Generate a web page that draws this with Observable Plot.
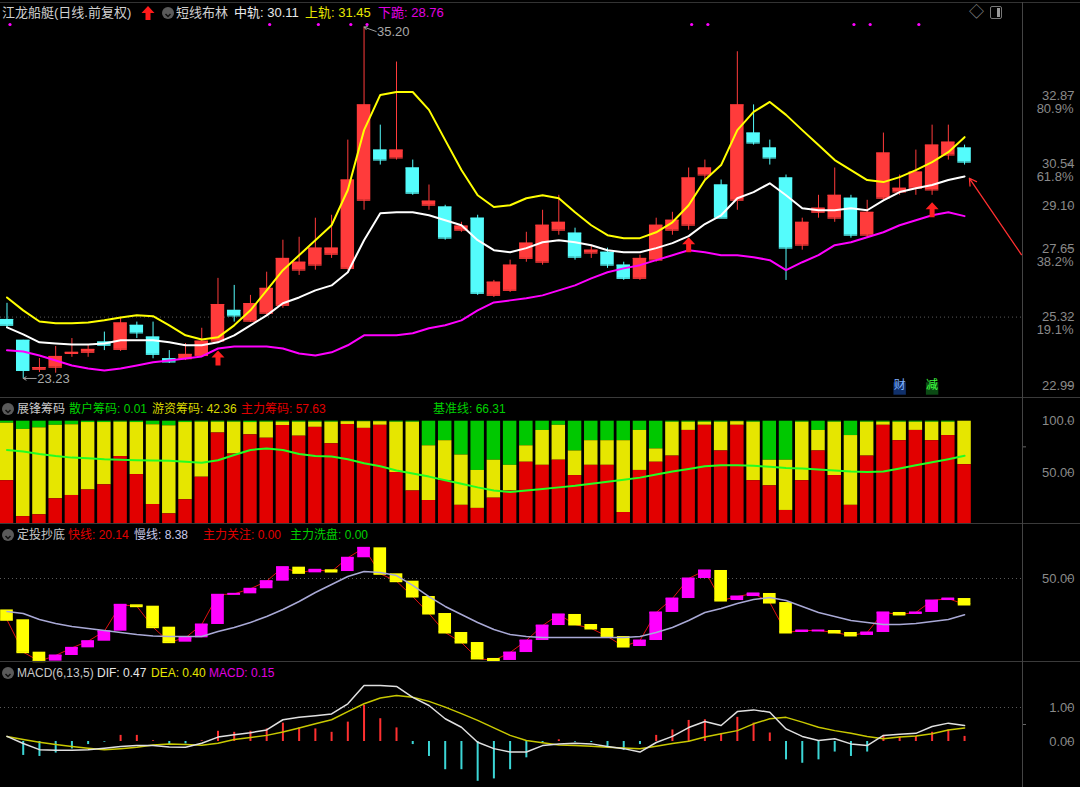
<!DOCTYPE html>
<html><head><meta charset="utf-8">
<script src="https://cdn.jsdelivr.net/npm/d3@7"></script>
<script src="https://cdn.jsdelivr.net/npm/@observablehq/plot@0.6"></script>
<style>
html,body{margin:0;padding:0;background:#000;}
body{width:1080px;height:787px;overflow:hidden;position:relative;font-family:"Liberation Sans","Noto Sans CJK SC",sans-serif;}
.panel{position:absolute;left:0;width:1080px;}
.h{position:absolute;font-size:12px;white-space:nowrap;line-height:16px;}
.h1{font-size:13px;}
.sep{position:absolute;background:#3a3a3a;}
.ico{position:absolute;width:12px;height:12px;border-radius:50%;background:#5a5a5a;}
</style></head><body>
<div id="p1" class="panel" style="top:0"></div>
<div id="p2" class="panel" style="top:398px"></div>
<div id="p3" class="panel" style="top:524px"></div>
<div id="p4" class="panel" style="top:662px"></div>
<script>
// ---------------- data ----------------
const openP  = [25.24,24.53,23.54,23.61,24.08,24.12,24.47,24.22,25.04,24.64,23.90,23.90,24.01,24.50,25.55,25.18,25.45,25.72,26.92,27.09,27.46,26.98,29.30,31.01,30.74,30.40,29.13,29.07,28.28,28.69,26.06,26.23,27.32,27.19,28.28,28.18,27.50,27.53,27.09,26.64,27.26,28.28,28.45,30.16,29.82,29.30,31.59,31.08,30.06,27.77,28.89,28.69,29.37,28.11,29.37,29.58,29.71,29.65,30.84,31.08];
const highP  = [25.79,24.53,23.91,24.32,24.59,24.36,24.81,25.31,25.15,25.15,24.18,24.42,24.94,26.64,26.40,26.06,26.85,27.94,28.04,28.69,28.79,31.35,35.20,31.86,34.01,30.67,29.82,29.13,28.55,28.79,26.57,27.26,28.21,28.96,29.47,28.35,27.77,27.67,27.19,27.43,28.69,28.89,30.40,30.67,29.99,34.36,32.55,31.35,30.16,28.69,29.47,30.40,29.47,29.30,31.59,30.16,31.01,31.86,31.86,31.18];
const lowP   = [24.94,23.23,23.43,23.41,23.95,23.95,24.18,24.15,24.59,23.90,23.74,23.84,23.96,24.42,25.15,25.14,25.38,25.62,26.74,26.92,27.32,26.92,28.96,30.50,30.67,29.47,28.96,27.94,28.21,26.06,25.99,26.16,27.19,27.09,28.11,27.26,27.32,26.98,26.57,26.57,27.19,28.11,28.28,29.99,28.69,28.96,31.18,30.50,26.57,27.60,28.69,28.55,28.01,28.01,29.30,29.47,29.47,29.47,30.67,30.50];
const closeP = [25.04,23.50,23.60,23.98,24.12,24.22,24.36,25.12,24.78,24.05,23.79,24.05,24.50,25.75,25.36,25.78,26.30,27.32,27.19,27.67,27.67,29.99,32.55,30.67,31.01,29.54,29.27,28.01,28.42,26.13,26.51,27.09,27.84,28.45,28.55,27.36,27.60,27.09,26.64,27.32,28.45,28.62,30.06,30.40,28.69,32.55,31.25,30.74,27.67,28.55,29.03,29.47,28.11,28.89,30.91,29.71,30.26,31.18,31.28,30.60];
const bollUp  = [25.99,25.55,25.17,25.11,25.11,25.14,25.21,25.31,25.38,25.35,25.04,24.70,24.56,24.63,25.04,25.55,26.23,26.92,27.43,27.94,28.45,29.65,31.69,32.89,32.99,32.99,32.38,31.35,30.33,29.47,29.07,29.13,29.37,29.47,29.37,28.89,28.45,28.11,28.01,28.01,28.21,28.55,29.13,29.99,30.50,31.69,32.31,32.65,32.21,31.69,31.18,30.67,30.33,29.99,29.92,30.09,30.33,30.60,30.94,31.45];
const bollMid = [24.97,24.73,24.46,24.42,24.39,24.39,24.42,24.53,24.53,24.53,24.46,24.36,24.36,24.46,24.70,25.04,25.38,25.79,25.99,26.23,26.40,26.85,27.94,28.86,28.89,28.89,28.79,28.62,28.45,27.94,27.60,27.53,27.67,27.87,27.94,27.87,27.77,27.60,27.53,27.53,27.67,27.84,28.08,28.49,28.79,29.37,29.58,29.88,29.47,29.03,28.96,28.96,29.03,28.96,29.30,29.58,29.71,29.82,29.99,30.11];
const bollLow = [24.19,24.15,24.01,23.84,23.67,23.57,23.50,23.57,23.67,23.78,23.84,23.91,23.98,24.25,24.32,24.32,24.32,24.25,24.08,24.01,24.12,24.36,24.70,24.70,24.70,24.77,24.94,25.04,25.21,25.55,25.82,25.89,25.96,26.06,26.23,26.40,26.64,26.85,26.98,27.09,27.26,27.43,27.60,27.53,27.43,27.43,27.36,27.26,26.92,27.19,27.43,27.77,27.87,28.04,28.21,28.45,28.62,28.79,28.89,28.76];
const buySignal = [13, 42, 57];
const topDots = [0, 16, 19, 21, 22, 42, 43, 52, 53, 56];
const priceTicks = [22.99, 25.32, 27.65, 29.10, 30.54, 32.87];
const pctTicks = [{v:32.87, t:"80.9%"},{v:30.54, t:"61.8%"},{v:27.65, t:"38.2%"},{v:25.32, t:"19.1%"}];
const priceGrid = [25.32];
const extremes = [{i:22, v:35.20, side:"high"},{i:1, v:23.23, side:"low"}];
const badges = [{i:55, t:"财", fg:"#7fb0ff", bg:"#10306a"},{i:57, t:"减", fg:"#40ff40", bg:"#0b4a14"}];
const pointer = {i1:62.5, v1:27.45, i2:59.3, v2:30.05};

// 展锋筹码: 主力 (red), 游资 (yellow), 散户 = remainder (green)
const chipMain = [42,7,8.8,24.4,27.6,33,38,65.6,48,18.8,9.7,23.4,45.4,88.5,68,86.7,83.4,95.8,85.4,94,78,96.8,93,96,50,32,22.7,42,18,15,25,32,60,57,62,47,57,57,11,52,60,66,91,96,71,96,42,37,13,42,71,47,18,66,96,81,91,81,86,57.63];
const chipHot  = [56,85,84.7,71.6,68.9,65.7,60.7,33.4,50.7,77.7,85.8,75.3,53.6,10.5,31,12,15.6,3.2,13.6,5,21,2.7,6.5,3.5,49,67,53.3,39,49,37,37,25,16,34,34,24,24,24,70,39,13,33,8,3,28,3.5,57,25,49,57,20,52,68,33,3,18,8,18,13,42.36];
const chipBase = [72,70.5,68,66,64.5,64,63,62.5,62,61.7,61.5,60.5,59.5,62,67,72,73.5,72,68,66,65.5,63,59,56,52,49,46,42.5,39,35.5,32.5,31,32.5,34,35.5,37,39,41,43,45,48,51,53.5,56,57,57,56.5,55.5,54.5,54,53,52,51,50.5,51,54,57,60,63,66.31];
const chipTicks = [100, 50];

// 定投抄底
const fastStart = 13.9;
const fastLine = [2.6,-34.6,-44.9,-38.4,-29.6,-22.0,-10.5,19.8,18.2,-5.9,-23.1,-18.1,-2.8,31.3,32.4,38.2,46.9,63.0,56.5,60.0,58.0,73.8,85.2,55.4,46.9,29.3,9.8,-12.0,-23.5,-41.8,-44.1,-35.0,-21.2,-4.0,8.7,-2.8,-7.4,-16.6,-28.1,-21.2,11.0,27.0,50.0,59.2,24.7,29.3,32.8,22.4,-12.0,-9.7,-9.7,-12.0,-15.4,-12.0,11.0,8.7,11.0,24.7,27.0,20.14];
const slowLine = [12.1,9.8,2.9,-1.7,-5.1,-7.4,-9.7,-12.0,-14.3,-16.0,-16.6,-16.6,-16.6,-10.8,-6.3,-0.5,6.4,14.4,23.6,33.9,43.1,52.3,58.0,56.9,53.4,42.0,29.3,17.9,8.7,-0.5,-8.5,-14.3,-16.6,-17.7,-17.7,-17.7,-17.7,-17.7,-17.7,-16.6,-12.0,-6.3,1.8,11.0,15.6,21.3,25.9,28.2,24.7,17.9,11.0,6.4,1.8,-0.5,-2.8,-2.8,-1.7,0.6,2.9,8.38];
const dtTicks = [50];

// MACD(6,13,5)
const difLine = [0.15,-0.06,-0.24,-0.26,-0.26,-0.24,-0.20,-0.15,-0.12,-0.12,-0.16,-0.17,-0.05,0.13,0.20,0.26,0.34,0.64,0.71,0.76,0.81,1.11,1.65,1.65,1.62,1.30,1.06,0.67,0.42,-0.02,-0.21,-0.31,-0.31,-0.12,-0.07,-0.05,-0.07,-0.15,-0.21,-0.31,-0.03,0.15,0.41,0.59,0.47,0.88,0.93,0.86,0.37,0.15,0.03,0.08,-0.07,-0.12,0.18,0.21,0.24,0.44,0.54,0.47];
const deaLine = [0.15,0.06,-0.02,-0.09,-0.15,-0.20,-0.24,-0.21,-0.17,-0.10,-0.07,-0.09,-0.11,-0.05,0.06,0.12,0.18,0.28,0.40,0.52,0.64,0.88,1.11,1.28,1.35,1.30,1.18,1.01,0.82,0.62,0.40,0.18,0.03,-0.04,-0.10,-0.12,-0.14,-0.17,-0.19,-0.21,-0.14,-0.06,0.01,0.13,0.23,0.32,0.52,0.67,0.71,0.57,0.42,0.32,0.24,0.15,0.08,0.13,0.16,0.23,0.34,0.40];
const macdBar = [0.0,-0.41,-0.44,-0.34,-0.22,-0.09,-0.02,0.18,0.18,0.02,-0.09,-0.07,0.02,0.30,0.27,0.30,0.37,0.54,0.40,0.37,0.27,0.57,1.06,0.67,0.40,-0.09,-0.44,-0.83,-0.83,-1.17,-1.10,-0.83,-0.48,-0.03,0.05,-0.02,-0.03,-0.15,-0.26,-0.09,0.18,0.34,0.62,0.64,0.23,0.71,0.54,0.25,-0.54,-0.64,-0.54,-0.31,-0.44,-0.31,0.18,0.13,0.15,0.27,0.34,0.15];
const macdTicks = [1, 0];
const macdMinor = [0.5];

// ---------------- helpers ----------------
const N = closeP.length;
const X = {domain:[-0.4, 62.57], axis:null};
const W = 1080, MR = 58;
const HALF = 0.415;
const RED = "#ff3b3b", CYAN = "#54fcfc";
const axisColor = "#8a8a8a";
const baseStyle = "background:transparent;overflow:visible;font-family:'Liberation Sans','Noto Sans CJK SC',sans-serif;";

const upArrow = {draw(ctx){ ctx.moveTo(0,-8); ctx.lineTo(6.5,-1); ctx.lineTo(2.5,-1); ctx.lineTo(2.5,7); ctx.lineTo(-2.5,7); ctx.lineTo(-2.5,-1); ctx.lineTo(-6.5,-1); ctx.closePath(); }};

function rightAxis(ticks, fmt, minor){
  return [
    Plot.axisY(ticks, {anchor:"right", tickSize:5, stroke:"#666", fill:axisColor, fontSize:13, tickFormat:fmt, textAnchor:"end", dx:44, tickPadding:3}),
    ...(minor ? [Plot.axisY(minor, {anchor:"right", tickSize:3, stroke:"#666", text:null})] : [])
  ];
}

// ---------------- panel 1 ----------------
const candles = d3.range(N).map(i => ({i, o:openP[i], h:highP[i], l:lowP[i], c:closeP[i], up:bollUp[i], mid:bollMid[i], low:bollLow[i]}));
const colOf = d => d.c >= d.o ? RED : CYAN;

const p1 = Plot.plot({
  width:W, height:398, marginLeft:0, marginRight:MR, marginTop:0, marginBottom:0,
  style:baseStyle,
  x:X,
  y:{domain:[22.99, 32.87], range:[385, 95], axis:null},
  marks:[
    Plot.ruleY(priceGrid, {stroke:"#5a5a5a", strokeDasharray:"1,3"}),
    Plot.ruleX(candles, {x:"i", y1:"l", y2:"h", stroke:colOf, strokeWidth:1}),
    Plot.rect(candles, {x1:d=>d.i-HALF, x2:d=>d.i+HALF, y1:"o", y2:"c", fill:colOf}),
    Plot.ruleY(candles, {y:"o", x1:d=>d.i-HALF, x2:d=>d.i+HALF, stroke:colOf}),
    Plot.ruleY(candles, {y:"c", x1:d=>d.i-HALF, x2:d=>d.i+HALF, stroke:colOf}),
    Plot.line(candles, {x:"i", y:"low", stroke:"#ff00ff", strokeWidth:2}),
    Plot.line(candles, {x:"i", y:"up", stroke:"#ffff00", strokeWidth:2}),
    Plot.line(candles, {x:"i", y:"mid", stroke:"#ffffff", strokeWidth:2}),
    Plot.dot(buySignal, {x:d=>d, y:d=>lowP[d], symbol:upArrow, fill:"#ff2020", stroke:null, dy:15}),
    Plot.dot(topDots, {x:d=>d, frameAnchor:"top", dy:24, dx:3, r:1.6, fill:"#ff00ff"}),
    Plot.arrow(extremes.filter(d=>d.side==="high"), {x1:d=>d.i+0.75, y1:d=>d.v-0.15, x2:"i", y2:"v", stroke:"#a0a0a0", strokeWidth:1, headLength:5}),
    Plot.text(extremes.filter(d=>d.side==="high"), {x:"i", y:"v", text:d=>d.v.toFixed(2), dx:13, dy:5, textAnchor:"start", fill:"#a8a8a8", fontSize:13}),
    Plot.arrow(extremes.filter(d=>d.side==="low"), {x1:d=>d.i+0.8, y1:"v", x2:"i", y2:"v", stroke:"#a0a0a0", strokeWidth:1, headLength:5}),
    Plot.text(extremes.filter(d=>d.side==="low"), {x:"i", y:"v", text:d=>d.v.toFixed(2), dx:14, textAnchor:"start", fill:"#a8a8a8", fontSize:13}),
    Plot.dot(badges, {x:"i", frameAnchor:"bottom", dy:-10, symbol:"square", r:7, fill:"bg"}),
    Plot.text(badges, {x:"i", frameAnchor:"bottom", dy:-10, text:"t", fill:"fg", fontSize:12}),
    Plot.arrow([pointer], {x1:"i1", y1:"v1", x2:"i2", y2:"v2", stroke:"#ff3030", strokeWidth:1.3, headLength:9}),
    ...rightAxis(priceTicks, d=>d.toFixed(2)),
    Plot.text(pctTicks, {y:"v", text:"t", frameAnchor:"right", dx:51, dy:13, textAnchor:"end", fill:axisColor, fontSize:13}),
  ]
});
document.getElementById("p1").appendChild(p1);

// ---------------- panel 2 ----------------
const chips = d3.range(N).map(i => ({i, main:chipMain[i], hot:chipHot[i], top:chipMain[i]+chipHot[i], base:chipBase[i]}));
const p2 = Plot.plot({
  width:W, height:126, marginLeft:0, marginRight:MR, marginTop:0, marginBottom:0,
  style:baseStyle, x:X,
  y:{domain:[0,100], range:[125.3, 22.7], axis:null},
  marks:[
    Plot.rect(chips, {x1:d=>d.i-HALF, x2:d=>d.i+HALF, y1:"top", y2:100, fill:"#00c800"}),
    Plot.rect(chips, {x1:d=>d.i-HALF, x2:d=>d.i+HALF, y1:"main", y2:"top", fill:"#e6e600"}),
    Plot.rect(chips, {x1:d=>d.i-HALF, x2:d=>d.i+HALF, y1:0, y2:"main", fill:"#e20000"}),
    Plot.line(chips, {x:"i", y:"base", stroke:"#22ff22", strokeWidth:2}),
    ...rightAxis(chipTicks, d=>d===100?"100.0":d.toFixed(2), [75]),
  ]
});
document.getElementById("p2").appendChild(p2);

// ---------------- panel 3 ----------------
const dt = d3.range(N).map(i => ({i, prev: i===0 ? fastStart : fastLine[i-1], cur:fastLine[i], slow:slowLine[i]}));
const dtCol = d => d.cur >= d.prev ? "#ff00ff" : "#ffff00";
const p3 = Plot.plot({
  width:W, height:138, marginLeft:0, marginRight:MR, marginTop:0, marginBottom:0,
  style:baseStyle, x:X,
  y:{domain:[0,50], range:[97.55, 54], axis:null},
  marks:[
    Plot.ruleY(dtTicks, {stroke:"#5a5a5a", strokeDasharray:"1,3"}),
    Plot.line(dt, {x:"i", y:"cur", stroke:"#e01010", strokeWidth:1}),
    Plot.rect(dt, {x1:d=>d.i-0.39, x2:d=>d.i+0.39, y1:"prev", y2:"cur", fill:dtCol}),
    Plot.ruleY(dt, {y:"cur", x1:d=>d.i-0.39, x2:d=>d.i+0.39, stroke:dtCol, strokeWidth:2}),
    Plot.line(dt, {x:"i", y:"slow", stroke:"#a9a9d6", strokeWidth:1.5}),
    ...rightAxis(dtTicks, d=>d.toFixed(2)),
  ]
});
document.getElementById("p3").appendChild(p3);

// ---------------- panel 4 ----------------
const md = d3.range(N).map(i => ({i, dif:difLine[i], dea:deaLine[i], m:macdBar[i]}));
const p4 = Plot.plot({
  width:W, height:125, marginLeft:0, marginRight:MR, marginTop:0, marginBottom:0,
  style:baseStyle, x:X,
  y:{domain:[0,1], range:[79, 45], axis:null},
  marks:[
    Plot.ruleY([1], {stroke:"#5a5a5a", strokeDasharray:"1,3"}),
    Plot.ruleX(md, {x:"i", y1:0, y2:"m", stroke:d=>d.m>=0?"#ff3030":"#3cd6d6", strokeWidth:2}),
    Plot.line(md, {x:"i", y:"dea", stroke:"#c8c800", strokeWidth:1.5}),
    Plot.line(md, {x:"i", y:"dif", stroke:"#e0e0e0", strokeWidth:1.5}),
    ...rightAxis(macdTicks, d=>d.toFixed(2), macdMinor),
  ]
});
document.getElementById("p4").appendChild(p4);
</script>

<!-- separators -->
<div class="sep" style="left:0;top:2px;width:1080px;height:1px;background:#333"></div>
<div class="sep" style="left:0;top:397px;width:1080px;height:1px"></div>
<div class="sep" style="left:0;top:523px;width:1080px;height:1px"></div>
<div class="sep" style="left:0;top:661px;width:1080px;height:1px"></div>
<div class="sep" style="left:1022px;top:2px;width:1px;height:785px;background:#444"></div>

<!-- headers -->
<div class="h h1" style="left:2px;top:5px;color:#d0d0d0">江龙船艇(日线.前复权)</div>
<svg style="position:absolute;left:141px;top:6px" width="14" height="14"><path d="M7 0 L13.5 7 L9.5 7 L9.5 14 L4.5 14 L4.5 7 L0.5 7 Z" fill="#ff1a1a"/></svg>
<div class="ico" style="left:162px;top:7px"><svg width="12" height="12"><path d="M3.5 5 L6 7.5 L8.5 5" stroke="#111" stroke-width="1.5" fill="none"/></svg></div>
<div class="h h1" style="left:176px;top:5px;color:#d0d0d0">短线布林</div>
<div class="h h1" style="left:234px;top:5px;color:#e8e8e8">中轨: 30.11</div>
<div class="h h1" style="left:305px;top:5px;color:#e6e600">上轨: 31.45</div>
<div class="h h1" style="left:378px;top:5px;color:#e000e0">下跪: 28.76</div>
<div class="h" style="left:969px;top:4px;color:#888;font-size:15px">◇</div>
<div style="position:absolute;left:990px;top:6px;width:10px;height:11px;border:1.5px solid #777;border-radius:2px"><div style="position:absolute;right:1px;top:1px;width:3px;height:9px;background:#999"></div></div>

<div class="ico" style="left:2px;top:403px"><svg width="12" height="12"><path d="M3.5 5 L6 7.5 L8.5 5" stroke="#111" stroke-width="1.5" fill="none"/></svg></div>
<div class="h" style="left:17px;top:401px;color:#c8c8c8">展锋筹码</div>
<div class="h" style="left:69px;top:401px;color:#00d000">散户筹码: 0.01</div>
<div class="h" style="left:152px;top:401px;color:#d8d800">游资筹码: 42.36</div>
<div class="h" style="left:241px;top:401px;color:#e00000">主力筹码: 57.63</div>
<div class="h" style="left:433px;top:401px;color:#00d000">基准线: 66.31</div>

<div class="ico" style="left:2px;top:529px"><svg width="12" height="12"><path d="M3.5 5 L6 7.5 L8.5 5" stroke="#111" stroke-width="1.5" fill="none"/></svg></div>
<div class="h" style="left:17px;top:527px;color:#c8c8c8">定投抄底</div>
<div class="h" style="left:68px;top:527px;color:#e00000">快线: 20.14</div>
<div class="h" style="left:134px;top:527px;color:#c8c8e8">慢线: 8.38</div>
<div class="h" style="left:203px;top:527px;color:#e00000">主力关注: 0.00</div>
<div class="h" style="left:290px;top:527px;color:#00d000">主力洗盘: 0.00</div>

<div class="ico" style="left:2px;top:667px"><svg width="12" height="12"><path d="M3.5 5 L6 7.5 L8.5 5" stroke="#111" stroke-width="1.5" fill="none"/></svg></div>
<div class="h" style="left:17px;top:665px;color:#c8c8c8">MACD(6,13,5)</div>
<div class="h" style="left:97px;top:665px;color:#e8e8e8">DIF: 0.47</div>
<div class="h" style="left:151px;top:665px;color:#e6e600">DEA: 0.40</div>
<div class="h" style="left:209px;top:665px;color:#e000e0">MACD: 0.15</div>
</body></html>
